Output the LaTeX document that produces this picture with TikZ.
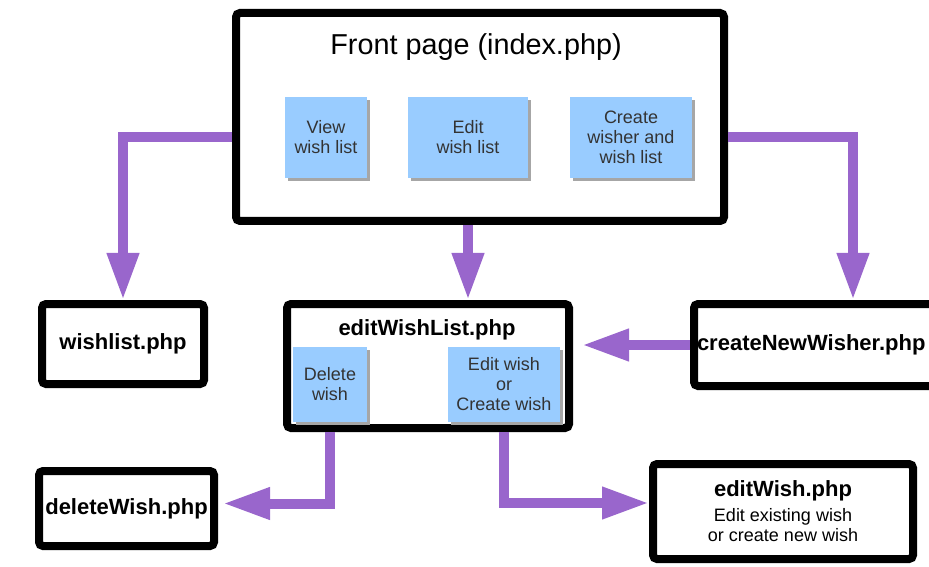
\documentclass[tikz,border=0pt]{standalone}
\usepackage{fontspec}
\setmainfont{Liberation Sans}
\usetikzlibrary{arrows.meta,shapes,positioning,calc,shadows}
\definecolor{flowpurple}{RGB}{153,102,204}
\definecolor{actionblue}{RGB}{153,204,255}

\begin{document}
\begin{tikzpicture}[
    x=0.5pt, y=-0.5pt,
    pagebox/.style={rectangle,draw,line width=4pt,rounded corners=2pt,fill=white,inner sep=0pt,
        drop shadow={shadow xshift=1.5pt,shadow yshift=-1.5pt,fill=black!25,opacity=1},
        font=\bfseries\fontsize{11}{13}\selectfont},
    actionbox/.style={rectangle,fill=actionblue,inner sep=0pt,align=center,text=black!80,
        drop shadow={shadow xshift=1.5pt,shadow yshift=-1.5pt,fill=black!35,opacity=1},
        font=\fontsize{9}{10}\selectfont},
    flow/.style={draw=flowpurple,line width=5pt,-{Triangle[width=15pt,length=23.5pt]}}
]
    \useasboundingbox (0,0) rectangle (929,566);
    \clip (0,0) rectangle (929,566);

    % Pages
    \node[pagebox,minimum width=244pt,minimum height=104pt] (front) at (480,117) {};
    \node[font=\fontsize{14.4}{17}\selectfont] (fronttitle) at (476,47) {Front page (index.php)};
    \node[pagebox,minimum width=81pt,minimum height=40pt] (wishlist) at (123,344) {wishlist.php};
    \node[pagebox,minimum width=141pt,minimum height=62pt] (editlist) at (428,366) {};
    \node[font=\bfseries\fontsize{11}{13}\selectfont] (editlisttitle) at (427,330) {editWishList.php};
    \node[pagebox,minimum width=128pt,minimum height=41pt,text width=125pt,inner xsep=1.5pt,align=left] (wisher) at (822,345) {createNewWisher.php};
    \node[pagebox,minimum width=87.5pt,minimum height=37.5pt] (delwish) at (126.5,508.5) {deleteWish.php};
    \node[pagebox,minimum width=130pt,minimum height=47.5pt,align=center,font=\fontsize{9}{10}\selectfont] (editwish) at (783,511.5)
        {\bfseries\fontsize{11}{13}\selectfont editWish.php\\[2.5pt] Edit existing wish\\ or create new wish};

    % Actions
    \node[actionbox,minimum width=41pt,minimum height=40.5pt] (view) at (326,137.5) {View\\wish list};
    \node[actionbox,minimum width=60pt,minimum height=40.5pt] (editlistbtn) at (468,137.5) {Edit\\wish list};
    \node[actionbox,minimum width=61pt,minimum height=40.5pt] (createbtn) at (631,137.5) {Create\\wisher and\\wish list};
    \node[actionbox,minimum width=37pt,minimum height=37.5pt] (delbtn) at (330,384.5) {Delete\\wish};
    \node[actionbox,minimum width=56pt,minimum height=37.5pt] (editbtn) at (504,384.5) {Edit wish\\or\\Create wish};

    % Flows
    \draw[flow] (front.west |- view.center) -| (wishlist.north);
    \draw[flow] (front.south -| editlistbtn.center) -- (editlist.north -| editlistbtn.center);
    \draw[flow] (front.east |- createbtn.center) -| ([xshift=15.5pt]wisher.north);
    \draw[flow,shorten >=4.5pt] (wisher.west) -- (wisher.west -| editlist.east);
    \draw[flow,shorten >=2.5pt] (editlist.south -| delbtn.center) |- ([yshift=2.5pt]delwish.east);
    \draw[flow] (editlist.south -| editbtn.center) |- ([yshift=4.25pt]editwish.west);
\end{tikzpicture}
\end{document}
